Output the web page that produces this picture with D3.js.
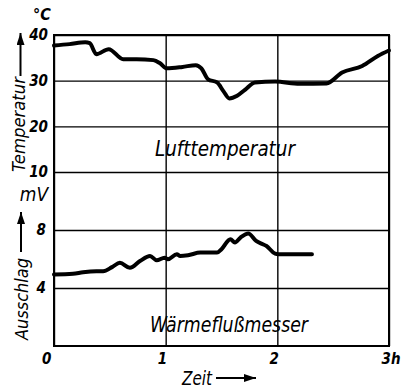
<!DOCTYPE html>
<html>
<head>
<meta charset="utf-8">
<script src="https://cdn.jsdelivr.net/npm/d3@7/dist/d3.min.js"></script>
<style>
  body { margin: 0; background: #fff; }
  text { font-family: "Liberation Sans Narrow", "DejaVu Sans Condensed", sans-serif; font-style: italic; fill: #000; }
</style>
</head>
<body>
<div id="stage_id"></div>
<script>
// Zeit in Stunden
var hourTicks = [0, 1, 2, 3];
var tempTicks = [10, 20, 30, 40];
var mvTicks = [4, 8];

// Lufttemperatur (°C)
var tempTime  = [0.00, 0.14, 0.28, 0.32, 0.38, 0.49, 0.62, 0.74, 0.89, 0.95, 1.01, 1.15, 1.27, 1.32, 1.38, 1.46, 1.52, 1.57, 1.64, 1.71, 1.80, 1.98, 2.20, 2.44, 2.58, 2.76, 2.90, 3.00];
var tempValue = [37.7, 38.0, 38.4, 38.2, 35.8, 36.9, 34.7, 34.7, 34.5, 33.8, 32.7, 33.0, 33.4, 32.7, 30.3, 29.6, 27.6, 26.1, 26.7, 28.0, 29.6, 29.8, 29.3, 29.4, 31.8, 33.2, 35.4, 36.6];

// Wärmeflußmesser (mV)
var fluxTime  = [0.00, 0.17, 0.26, 0.38, 0.44, 0.52, 0.59, 0.68, 0.77, 0.86, 0.92, 0.99, 1.02, 1.10, 1.13, 1.20, 1.31, 1.46, 1.50, 1.58, 1.62, 1.67, 1.74, 1.81, 1.87, 1.90, 1.98, 2.01, 2.31];
var fluxValue = [4.93, 4.98, 5.09, 5.16, 5.16, 5.44, 5.74, 5.39, 5.86, 6.21, 5.91, 6.09, 5.98, 6.33, 6.21, 6.26, 6.44, 6.44, 6.68, 7.37, 7.14, 7.48, 7.76, 7.25, 7.02, 6.91, 6.37, 6.33, 6.33];

var width = 406, height = 390;
var margin = {left: 54, right: 389, top: 35, bottom: 346}; // Rahmen in Pixeln

var svg = d3.select("#stage_id")
  .append("svg")
  .attr("width", width)
  .attr("height", height);

svg.append("defs").append("marker")
  .attr("id", "arrow")
  .attr("viewBox", "0 0 12 8")
  .attr("refX", 12).attr("refY", 4)
  .attr("markerWidth", 12).attr("markerHeight", 8)
  .attr("markerUnits", "userSpaceOnUse")
  .attr("orient", "auto")
  .append("path")
  .attr("d", "M0,0 L12,4 L0,8 Z")
  .attr("fill", "#000");

var xScale = d3.scaleLinear().domain([0, 3]).range([margin.left, margin.right]);
var yTemp = d3.scaleLinear().domain([10, 40]).range([172, margin.top]);
var yMv = d3.scaleLinear().domain([0, 12]).range([margin.bottom, 172]);

var plotW = margin.right - margin.left;
var plotH = margin.bottom - margin.top;

//************************************************************
// Gitter + Achsen
//************************************************************

var gT = svg.append("g")
  .attr("transform", "translate(" + margin.left + ",0)")
  .call(d3.axisLeft(yTemp).tickValues(tempTicks).tickSize(-plotW).tickPadding(6));

var gM = svg.append("g")
  .attr("transform", "translate(" + margin.left + ",0)")
  .call(d3.axisLeft(yMv).tickValues(mvTicks).tickSize(-plotW).tickPadding(8));

var gX = svg.append("g")
  .attr("transform", "translate(0," + margin.bottom + ")")
  .call(d3.axisBottom(xScale).tickValues(hourTicks).tickSize(-plotH).tickPadding(6)
    .tickFormat(function(d) { return d == 3 ? "3h" : d; }));

[gT, gM, gX].forEach(function(g) {
  g.select(".domain").remove();
  g.selectAll(".tick line").attr("stroke", "#000").attr("stroke-width", 1.4);
  g.selectAll(".tick text")
    .style("font-size", "15px")
    .style("font-weight", "bold");
});

gT.selectAll(".tick text").attr("dy", "0.32em");
gM.selectAll(".tick text").attr("dy", "0.32em");

gX.selectAll(".tick text")
  .attr("text-anchor", "end")
  .attr("dy", "0.8em")
  .attr("dx", function(d) { return d == 0 ? -3 : 1; });
gX.selectAll(".tick text").filter(function(d) { return d == 3; })
  .attr("text-anchor", "start")
  .attr("dx", -8);

// Rahmen
svg.append("rect")
  .attr("x", margin.left).attr("y", margin.top)
  .attr("width", plotW).attr("height", plotH)
  .attr("fill", "none")
  .attr("stroke", "#000")
  .attr("stroke-width", 2);

// Einheiten
svg.append("text").attr("x", 42).attr("y", 20)
  .attr("text-anchor", "middle")
  .style("font-size", "16px").style("font-weight", "bold")
  .text("°C");

svg.append("text").attr("x", 34).attr("y", 201)
  .attr("text-anchor", "middle")
  .style("font-size", "19px")
  .text("mV");

//************************************************************
// Kurven
//************************************************************

var tempPoints = tempTime.map(function(t, i) { return {x: t, y: tempValue[i]}; });
var fluxPoints = fluxTime.map(function(t, i) { return {x: t, y: fluxValue[i]}; });

var lineT = d3.line()
  .curve(d3.curveMonotoneX)
  .x(function(d) { return xScale(d.x); })
  .y(function(d) { return yTemp(d.y); });

var lineM = d3.line()
  .curve(d3.curveMonotoneX)
  .x(function(d) { return xScale(d.x); })
  .y(function(d) { return yMv(d.y); });

svg.append("path")
  .datum(tempPoints)
  .attr("d", lineT)
  .attr("fill", "none")
  .attr("stroke", "#000")
  .attr("stroke-width", 4)
  .attr("stroke-linejoin", "round")
  .attr("stroke-linecap", "round");

svg.append("path")
  .datum(fluxPoints)
  .attr("d", lineM)
  .attr("fill", "none")
  .attr("stroke", "#000")
  .attr("stroke-width", 4)
  .attr("stroke-linejoin", "round")
  .attr("stroke-linecap", "round");

//************************************************************
// Beschriftung
//************************************************************

svg.append("text")
  .attr("x", 155).attr("y", 156)
  .attr("textLength", 140).attr("lengthAdjust", "spacingAndGlyphs")
  .style("font-size", "21px")
  .text("Lufttemperatur");

svg.append("text")
  .attr("x", 150).attr("y", 332)
  .attr("textLength", 158).attr("lengthAdjust", "spacingAndGlyphs")
  .style("font-size", "21px")
  .text("Wärmeflußmesser");

svg.append("text")
  .attr("transform", "translate(25,172) rotate(-90)")
  .attr("textLength", 95).attr("lengthAdjust", "spacingAndGlyphs")
  .style("font-size", "18px")
  .text("Temperatur");

svg.append("text")
  .attr("transform", "translate(28,340) rotate(-90)")
  .attr("textLength", 82).attr("lengthAdjust", "spacingAndGlyphs")
  .style("font-size", "18px")
  .text("Ausschlag");

svg.append("text")
  .attr("x", 182).attr("y", 385)
  .attr("textLength", 30).attr("lengthAdjust", "spacingAndGlyphs")
  .style("font-size", "19px")
  .text("Zeit");

// Pfeile
var arrows = [[20.5, 76, 20.5, 33], [21, 252, 21, 212], [216, 378, 256, 378]];
svg.selectAll(".arrow")
  .data(arrows)
  .enter()
  .append("line")
  .attr("class", "arrow")
  .attr("x1", function(d) { return d[0]; })
  .attr("y1", function(d) { return d[1]; })
  .attr("x2", function(d) { return d[2]; })
  .attr("y2", function(d) { return d[3]; })
  .attr("stroke", "#000")
  .attr("stroke-width", 2)
  .attr("marker-end", "url(#arrow)");
</script>
</body>
</html>
